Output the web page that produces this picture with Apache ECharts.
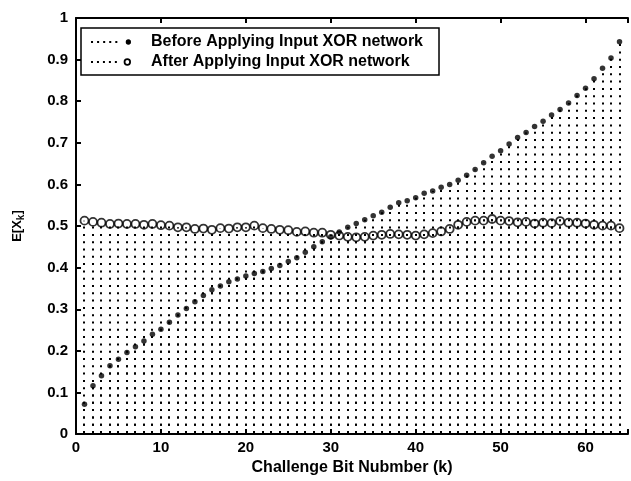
<!DOCTYPE html>
<html>
<head>
<meta charset="utf-8">
<script src="https://cdn.jsdelivr.net/npm/echarts@6/dist/echarts.min.js"></script>
<style>
  html, body { margin: 0; padding: 0; background: #fff; }
  #chart { width: 631px; height: 481px; }
</style>
</head>
<body>
<div id="chart"></div>
<script>
// Challenge bit index k = 1..64
const bitIndex = Array.from({ length: 64 }, (_, i) => i + 1);

// E[X_k] before the input XOR network
const beforeXor = [
  0.072, 0.116, 0.140, 0.164, 0.180, 0.196, 0.210, 0.224, 0.240, 0.252,
  0.269, 0.286, 0.302, 0.318, 0.333, 0.347, 0.356, 0.366, 0.373, 0.380,
  0.386, 0.391, 0.398, 0.405, 0.415, 0.424, 0.437, 0.450, 0.462, 0.474,
  0.486, 0.497, 0.506, 0.515, 0.525, 0.533, 0.545, 0.556, 0.561, 0.568,
  0.579, 0.584, 0.593, 0.600, 0.610, 0.622, 0.636, 0.652, 0.668, 0.681,
  0.697, 0.713, 0.725, 0.739, 0.752, 0.767, 0.780, 0.796, 0.814, 0.831,
  0.854, 0.879, 0.904, 0.943
];

// E[X_k] after the input XOR network
const afterXor = [
  0.513, 0.510, 0.508, 0.505, 0.506, 0.505, 0.505, 0.503, 0.505, 0.502,
  0.501, 0.497, 0.497, 0.493, 0.494, 0.491, 0.495, 0.494, 0.497, 0.497,
  0.501, 0.495, 0.493, 0.491, 0.490, 0.486, 0.487, 0.484, 0.484, 0.479,
  0.477, 0.474, 0.473, 0.474, 0.477, 0.479, 0.481, 0.480, 0.479, 0.477,
  0.480, 0.483, 0.487, 0.493, 0.503, 0.510, 0.513, 0.513, 0.517, 0.513,
  0.512, 0.509, 0.510, 0.506, 0.508, 0.507, 0.512, 0.508, 0.508, 0.506,
  0.503, 0.501, 0.501, 0.495
];

const seriesNames = ['Before Applying Input XOR network', 'After Applying Input XOR network'];
const xTicks = [0, 10, 20, 30, 40, 50, 60];

const FONT = '"Liberation Sans", Arial, Helvetica, sans-serif';

const pairs = (ys) => bitIndex.map((k, i) => [k, ys[i]]);

// dotted stem from the baseline up to each value
function stemRenderer(params, api) {
  const base = api.coord([api.value(0), 0]);
  const top = api.coord([api.value(0), api.value(1)]);
  const x = Math.round(base[0]);
  return {
    type: 'line',
    shape: { x1: x, y1: Math.round(base[1]) - 1, x2: x, y2: top[1] },
    style: { stroke: '#000', lineWidth: 2, lineDash: [2, 5.3], lineCap: 'butt' },
    silent: true
  };
}

// legend glyphs: a short dotted run ending in the series marker
const dots = 'M0 3.1h2v2h-2z M6 3.1h2v2h-2z M12 3.1h2v2h-2z M18 3.1h2v2h-2z M24 3.1h2v2h-2z';
const iconBefore = 'path://' + dots + ' M34.3 4.1a2.6 2.6 0 1 0 5.2 0a2.6 2.6 0 1 0 -5.2 0z';
const iconAfter = 'path://' + dots + ' M32.8 4.1a3.7 3.7 0 1 0 7.4 0a3.7 3.7 0 1 0 -7.4 0z M34.6 4.1a1.9 1.9 0 1 1 3.8 0a1.9 1.9 0 1 1 -3.8 0z';

const chart = echarts.init(document.getElementById('chart'), null, { renderer: 'canvas' });

const labelStyle = { color: '#000', fontFamily: FONT, fontWeight: 'bold', fontSize: 15 };
const axisLineStyle = { color: '#000', width: 2 };

chart.setOption({
  animation: false,
  backgroundColor: '#fff',
  grid: { left: 76, top: 18, width: 562, height: 420, containLabel: false },
  xAxis: [
    {
      type: 'value', min: 0, max: 65, interval: 10, position: 'bottom',
      axisLine: { show: true, lineStyle: axisLineStyle },
      axisTick: { show: true, inside: true, length: 5, lineStyle: axisLineStyle },
      axisLabel: Object.assign({ margin: 6, formatter: (v) => (xTicks.includes(v) ? String(v) : '') }, labelStyle),
      splitLine: { show: false },
      name: 'Challenge Bit Nubmber (k)',
      nameLocation: 'middle', nameGap: 24,
      nameTextStyle: Object.assign({}, labelStyle, { fontSize: 16 })
    },
    {
      type: 'value', min: 0, max: 65, interval: 10, position: 'top',
      axisLine: { show: true, lineStyle: axisLineStyle },
      axisTick: { show: true, inside: true, length: 5, lineStyle: axisLineStyle },
      axisLabel: { show: false },
      splitLine: { show: false }
    }
  ],
  yAxis: {
    type: 'value', min: 0, max: 1, interval: 0.1,
    axisLine: { show: true, lineStyle: axisLineStyle },
    axisTick: { show: true, inside: true, length: 5, lineStyle: axisLineStyle },
    axisLabel: Object.assign({ margin: 8 }, labelStyle),
    splitLine: { show: false },
    name: '{a|E[X}{s|k}{a|]}',
    nameLocation: 'middle', nameGap: 50, nameRotate: 90,
    nameTextStyle: {
      rich: {
        a: { fontFamily: FONT, fontWeight: 'bold', fontSize: 13, color: '#000' },
        s: { fontFamily: FONT, fontWeight: 'bold', fontSize: 10, color: '#000', padding: [8, 0, 0, 0] }
      }
    }
  },
  legend: {
    left: 81, top: 28, orient: 'vertical',
    backgroundColor: '#fff', borderColor: '#000', borderWidth: 1.5, borderRadius: 0,
    padding: [6, 16, 5, 10], itemGap: 4,
    itemWidth: 40, itemHeight: 9,
    textStyle: Object.assign({}, labelStyle, { fontSize: 16, padding: [0, 0, 0, 15] }),
    data: [
      { name: seriesNames[0], icon: iconBefore, itemStyle: { color: '#000' } },
      { name: seriesNames[1], icon: iconAfter, itemStyle: { color: '#000' } }
    ]
  },
  series: [
    {
      name: seriesNames[1], type: 'custom', renderItem: stemRenderer,
      data: pairs(afterXor), z: 1, itemStyle: { color: '#000' }
    },
    {
      name: seriesNames[0], type: 'custom', renderItem: stemRenderer,
      data: pairs(beforeXor), z: 1, itemStyle: { color: '#000' }
    },
    {
      name: seriesNames[1], type: 'scatter', data: pairs(afterXor), z: 3,
      symbol: 'circle', symbolSize: 8,
      itemStyle: { color: 'rgba(0,0,0,0)', borderColor: '#000', borderWidth: 1.8 }
    },
    {
      name: seriesNames[0], type: 'scatter', data: pairs(beforeXor), z: 4,
      symbol: 'circle', symbolSize: 5.5,
      itemStyle: { color: '#000' }
    }
  ]
});
</script>
</body>
</html>
